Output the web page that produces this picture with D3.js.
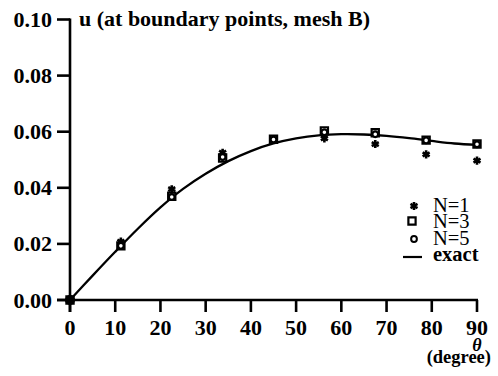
<!DOCTYPE html>
<html><head><meta charset="utf-8">
<script src="https://cdn.jsdelivr.net/npm/d3@7"></script>
<style>body{margin:0;background:#fff}svg{display:block}</style>
</head><body>
<svg id="c" width="498" height="376"></svg>
<script>
const theta = [0, 11.25, 22.5, 33.75, 45, 56.25, 67.5, 78.75, 90];
const uN1 = [0, 0.0208, 0.0395, 0.0525, 0.0572, 0.0576, 0.0556, 0.0519, 0.0497];
const uN3 = [0, 0.0193, 0.0370, 0.0506, 0.0573, 0.0603, 0.0596, 0.0570, 0.0556];
const uN5 = [0, 0.0193, 0.0367, 0.0510, 0.0572, 0.0598, 0.0591, 0.0569, 0.0555];
const exactTheta = [0, 5, 10, 15, 20, 25, 30, 35, 40, 45, 50, 55, 60, 65, 70, 75, 80, 85, 90];
const exactU = [0, 0.0087, 0.0172, 0.0254, 0.0330, 0.0396, 0.0450, 0.0495, 0.0531, 0.0558, 0.0576, 0.0587, 0.0591, 0.0590, 0.0585, 0.0577, 0.0567, 0.0558, 0.0553];
const xTicks = [0, 10, 20, 30, 40, 50, 60, 70, 80, 90];
const yTicks = [0, 0.02, 0.04, 0.06, 0.08, 0.10];
const legendLabels = ["N=1", "N=3", "N=5", "exact"];
const titleText = "u (at boundary points, mesh B)";

const svg = d3.select("#c");
const x = d3.scaleLinear().domain([0, 90]).range([70, 477]);
const y = d3.scaleLinear().domain([0, 0.10]).range([300, 19.5]);
const serif = "'Liberation Serif', 'Times New Roman', serif";

// axes
const ax = svg.append("g").attr("stroke", "#000").attr("stroke-width", 2.6).attr("fill", "none");
ax.append("line").attr("x1", x(0)).attr("x2", x(0)).attr("y1", y(0.10) - 1).attr("y2", y(0) + 12);
ax.append("line").attr("x1", x(0) - 13).attr("x2", x(90) + 1).attr("y1", y(0)).attr("y2", y(0));
yTicks.forEach(v => ax.append("line").attr("x1", x(0) - 13).attr("x2", x(0)).attr("y1", y(v)).attr("y2", y(v)));
xTicks.forEach(v => ax.append("line").attr("x1", x(v)).attr("x2", x(v)).attr("y1", y(0)).attr("y2", y(0) + 12));

svg.append("g").selectAll("text").data(yTicks).join("text")
  .attr("x", 52).attr("y", d => y(d) + 7.5).attr("text-anchor", "end")
  .attr("font-family", serif).attr("font-weight", "bold").attr("font-size", 22)
  .text(d => d3.format(".2f")(d));
svg.append("g").selectAll("text").data(xTicks).join("text")
  .attr("x", d => x(d)).attr("y", 335).attr("text-anchor", "middle")
  .attr("font-family", serif).attr("font-weight", "bold").attr("font-size", 22)
  .text(d => d);

svg.append("text").attr("x", 79).attr("y", 26)
  .attr("font-family", serif).attr("font-weight", "bold").attr("font-size", 22).text(titleText);
svg.append("text").attr("x", x(90)).attr("y", 351).attr("text-anchor", "middle")
  .attr("font-family", serif).attr("font-weight", "bold").attr("font-style", "italic").attr("font-size", 18).text("θ");
svg.append("text").attr("x", 491).attr("y", 363).attr("text-anchor", "end")
  .attr("font-family", serif).attr("font-weight", "bold").attr("font-size", 18.5).text("(degree)");

// exact curve
svg.append("path")
  .datum(exactTheta.map((t, i) => [t, exactU[i]]))
  .attr("fill", "none").attr("stroke", "#000").attr("stroke-width", 2.3)
  .attr("d", d3.line().x(d => x(d[0])).y(d => y(d[1])).curve(d3.curveCatmullRom));

// markers
const star = d3.symbol().type(d3.symbolAsterisk).size(46);
const sq = d3.symbol().type(d3.symbolSquare).size(52);
const circ = d3.symbol().type(d3.symbolCircle).size(26);
function drawSeries(vals, gen, cls) {
  svg.append("g").selectAll("path").data(theta.map((t, i) => [t, vals[i]])).join("path")
    .attr("transform", d => `translate(${x(d[0])},${y(d[1])})`)
    .attr("d", gen).attr("fill", cls === "star" ? "#000" : "#fff")
    .attr("stroke", "#000").attr("stroke-width", cls === "star" ? 2.6 : 2.2);
}
drawSeries(uN1, star, "star");
drawSeries(uN3, sq, "sq");
drawSeries(uN5, circ, "circ");
// origin dot
svg.append("circle").attr("cx", x(0)).attr("cy", y(0)).attr("r", 5).attr("fill", "#000");

// legend
const lg = svg.append("g");
const rows = [212, 228, 245, 261];
lg.append("path").attr("transform", `translate(414,206)`).attr("d", star).attr("stroke", "#000").attr("stroke-width", 2.6);
lg.append("path").attr("transform", `translate(412,221)`).attr("d", sq).attr("fill", "#fff").attr("stroke", "#000").attr("stroke-width", 2.2);
lg.append("path").attr("transform", `translate(414,239)`).attr("d", circ).attr("fill", "#fff").attr("stroke", "#000").attr("stroke-width", 2);
lg.append("line").attr("x1", 403).attr("x2", 422).attr("y1", 257).attr("y2", 257).attr("stroke", "#000").attr("stroke-width", 2.2);
lg.selectAll("text").data(legendLabels).join("text")
  .attr("x", 433).attr("y", (d, i) => rows[i])
  .attr("font-family", serif).attr("font-size", 20.5)
  .attr("font-weight", (d, i) => i < 3 ? "normal" : "bold")
  .text(d => d);
</script>
</body></html>
